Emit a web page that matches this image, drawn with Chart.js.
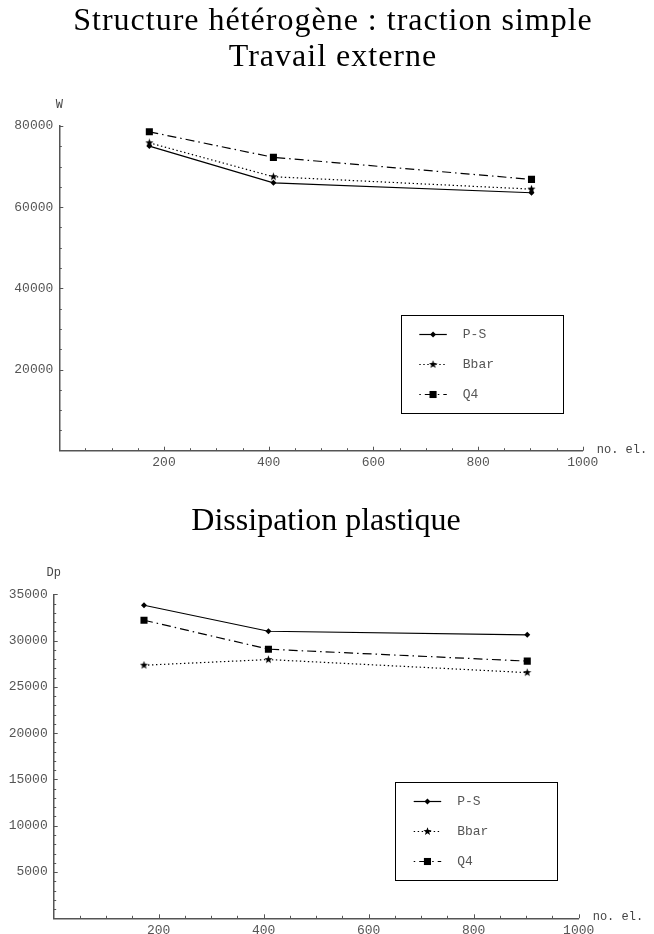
<!DOCTYPE html>
<html>
<head>
<meta charset="utf-8">
<script src="https://cdn.jsdelivr.net/npm/chart.js@4/dist/chart.umd.min.js"></script>
<style>
body { margin: 0; background: #fff; width: 654px; height: 934px; position: relative; overflow: hidden; }
canvas { position: absolute; left: 0; }
#top_chart { top: 0; }
#bottom_chart { top: 470px; }
</style>
</head>
<body>
<canvas id="top_chart" width="654" height="470"></canvas>
<canvas id="bottom_chart" width="654" height="464"></canvas>
<script>
// nombre d'elements du maillage
const noEl = [172, 409, 902];

// travail externe W
const travailPS = [75050, 66000, 63550];
const travailBbar = [75850, 67500, 64450];
const travailQ4 = [78570, 72270, 66850];

// dissipation plastique Dp
const dissipPS = [33820, 31010, 30620];
const dissipBbar = [27340, 27950, 26540];
const dissipQ4 = [32200, 29070, 27780];

const seriesNames = ['P-S', 'Bbar', 'Q4'];

const mono = '"Liberation Mono", "DejaVu Sans Mono", monospace';
const serif = '"Liberation Serif", "DejaVu Serif", serif';

// petite etoile pleine pour Bbar
function makeStar() {
    let c = document.createElement('canvas');
    c.width = 9;
    c.height = 9;
    let g = c.getContext('2d');
    g.fillStyle = '#000';
    g.beginPath();
    for (let i = 0; i < 10; i++) {
        let r = i % 2 == 0 ? 4.3 : 1.8;
        let a = -Math.PI / 2 + i * Math.PI / 5;
        let px = 4.5 + r * Math.cos(a);
        let py = 4.5 + r * Math.sin(a);
        if (i == 0) g.moveTo(px, py); else g.lineTo(px, py);
    }
    g.closePath();
    g.fill();
    return c;
}
const star = makeStar();

function points(ys) {
    return ys.map((v, i) => ({ x: noEl[i], y: v }));
}

function makeSets(ps, bbar, q4) {
    return [
        { label: seriesNames[0], data: points(ps), borderColor: '#000', backgroundColor: '#000',
          borderWidth: 1.2, borderDash: [], pointStyle: 'rectRot', pointRadius: 3, pointBorderWidth: 0 },
        { label: seriesNames[1], data: points(bbar), borderColor: '#000', backgroundColor: '#000',
          borderWidth: 1.2, borderDash: [1.4, 2.6], pointStyle: star, pointRadius: 4, pointBorderWidth: 0 },
        { label: seriesNames[2], data: points(q4), borderColor: '#000', backgroundColor: '#000',
          borderWidth: 1.2, borderDash: [9, 4, 1.5, 4], pointStyle: 'rect', pointRadius: 5, pointBorderWidth: 0 }
    ];
}

// titre, graduations tournees vers l'interieur, noms des axes et cadre de legende
const axisMarks = {
    id: 'axisMarks',
    afterDraw(chart, args, opts) {
        let ctx = chart.ctx;
        let sx = chart.scales.x;
        let sy = chart.scales.y;
        let area = chart.chartArea;
        ctx.save();

        ctx.fillStyle = '#000';
        ctx.font = '32px ' + serif;
        ctx.letterSpacing = opts.titleSpacing;
        ctx.textAlign = 'center';
        ctx.textBaseline = 'middle';
        opts.title.forEach((t, i) => ctx.fillText(t, opts.titleX, opts.titleY[i]));
        ctx.letterSpacing = '0px';

        ctx.strokeStyle = '#555';
        ctx.lineWidth = 1;
        for (let v = opts.xMinor; v <= sx.max; v += opts.xMinor) {
            let px = Math.round(sx.getPixelForValue(v)) + 0.5;
            let len = v % opts.xMajor == 0 ? 4 : 2.5;
            ctx.beginPath();
            ctx.moveTo(px, area.bottom);
            ctx.lineTo(px, area.bottom - len);
            ctx.stroke();
        }
        for (let v = opts.yMinor; v <= sy.max; v += opts.yMinor) {
            let py = Math.round(sy.getPixelForValue(v)) + 0.5;
            let len = v % opts.yMajor == 0 ? 4 : 2.5;
            ctx.beginPath();
            ctx.moveTo(area.left, py);
            ctx.lineTo(area.left + len, py);
            ctx.stroke();
        }

        ctx.fillStyle = '#444';
        ctx.font = '12px ' + mono;
        ctx.textAlign = 'center';
        ctx.fillText(opts.yName, area.left, area.top - 21);
        ctx.textAlign = 'left';
        ctx.fillText(opts.xName, area.right + 14, area.bottom - 1);

        // legende
        let bx = area.left + 341.5;
        let by = area.bottom - 136;
        ctx.strokeStyle = '#000';
        ctx.lineWidth = 1;
        ctx.strokeRect(Math.round(bx) + 0.5, Math.round(by) + 0.5, 162, 98);
        chart.data.datasets.forEach((ds, i) => {
            let ry = Math.round(by + 19 + 30 * i) + 0.5;
            let x1 = bx + 18.5;
            let x2 = bx + 46;
            ctx.strokeStyle = '#000';
            ctx.lineWidth = ds.borderWidth;
            ctx.setLineDash(ds.borderDash);
            ctx.lineDashOffset = ds.borderDash.length > 2 ? 13 : 0;
            ctx.beginPath();
            ctx.moveTo(x1, ry);
            ctx.lineTo(x2, ry);
            ctx.stroke();
            ctx.setLineDash([]);
            ctx.fillStyle = '#000';
            Chart.helpers.drawPoint(ctx, {
                pointStyle: ds.pointStyle, radius: ds.pointRadius, rotation: 0, borderWidth: 0
            }, (x1 + x2) / 2, ry);
            ctx.fillStyle = '#555';
            ctx.font = '13px ' + mono;
            ctx.textAlign = 'left';
            ctx.textBaseline = 'middle';
            ctx.fillText(ds.label, bx + 62, ry);
        });
        ctx.restore();
    }
};

function makeChart(id, sets, yMax, yStep, marks, area) {
    return new Chart(document.getElementById(id), {
        type: 'line',
        data: { datasets: sets },
        options: {
            responsive: false,
            animation: false,
            layout: { padding: { left: 0, right: area.right, top: area.top, bottom: 0 } },
            plugins: {
                legend: { display: false },
                tooltip: { enabled: false },
                title: { display: false },
                axisMarks: marks
            },
            scales: {
                x: {
                    type: 'linear',
                    min: 0,
                    max: 1000,
                    afterFit(s) { s.height = area.bottom; },
                    grid: { display: true, drawOnChartArea: false, drawTicks: false },
                    border: { color: '#555', width: 1.5 },
                    ticks: {
                        stepSize: 200,
                        padding: 4,
                        color: '#555',
                        font: { family: mono, size: 13 },
                        maxRotation: 0,
                        callback: v => v == 0 ? '' : '' + v
                    }
                },
                y: {
                    type: 'linear',
                    min: 0,
                    max: yMax,
                    afterFit(s) { s.width = area.left; },
                    grid: { display: true, drawOnChartArea: false, drawTicks: false },
                    border: { color: '#555', width: 1.5 },
                    ticks: {
                        stepSize: yStep,
                        padding: 6,
                        color: '#555',
                        font: { family: mono, size: 13 },
                        callback: v => v == 0 ? '' : '' + v
                    }
                }
            },
            elements: { line: { tension: 0, fill: false } }
        },
        plugins: [axisMarks]
    });
}

makeChart('top_chart',
    makeSets(travailPS, travailBbar, travailQ4),
    80000, 20000,
    { title: ['Structure hétérogène : traction simple', 'Travail externe'], titleX: 333, titleY: [22, 58],
      titleSpacing: '1px',
      xMinor: 50, xMajor: 200, yMinor: 5000, yMajor: 20000, yName: 'W', xName: 'no. el.' },
    { left: 59.3, right: 71.2, top: 126, bottom: 19.3 });

makeChart('bottom_chart',
    makeSets(dissipPS, dissipBbar, dissipQ4),
    35000, 5000,
    { title: ['Dissipation plastique'], titleX: 326, titleY: [52],
      titleSpacing: '0px',
      xMinor: 50, xMajor: 200, yMinor: 1000, yMajor: 5000, yName: 'Dp', xName: 'no. el.' },
    { left: 53.7, right: 75.3, top: 124.3, bottom: 15.7 });
</script>
</body>
</html>
